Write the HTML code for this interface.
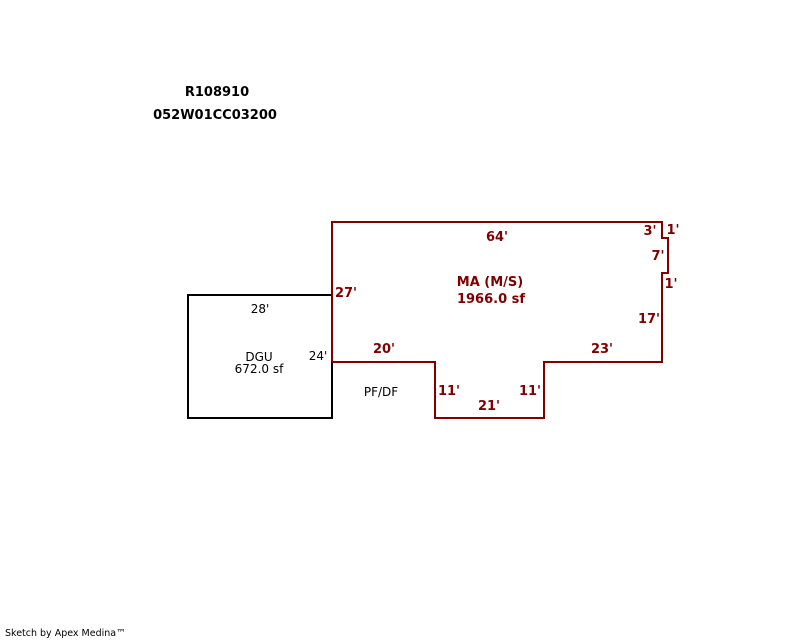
<!DOCTYPE html>
<html><head><style>
body{margin:0;background:#fff;}
svg{display:block;}
text{font-family:"DejaVu Sans","Liberation Sans",sans-serif;font-size:13px;}
.r{fill:#800000;font-weight:bold;}
.b{fill:#000;font-weight:bold;}
.n{fill:#000;font-size:12px;}
</style></head><body>
<svg width="800" height="640" xmlns="http://www.w3.org/2000/svg">
<rect width="800" height="640" fill="#fff"/>
<text class="b" x="217" y="96" text-anchor="middle">R108910</text>
<text class="b" x="215" y="119" text-anchor="middle">052W01CC03200</text>
<rect x="188" y="295" width="144" height="123" fill="none" stroke="#000" stroke-width="2"/>
<polyline points="332,362 332,222 662,222 662,238 668,238 668,273 662,273 662,362 544,362 544,418 435,418 435,362 332,362" fill="none" stroke="#800000" stroke-width="2"/>
<text class="n" x="260" y="313" text-anchor="middle">28'</text>
<text class="n" x="318" y="360" text-anchor="middle">24'</text>
<text class="n" x="259" y="361" text-anchor="middle">DGU</text>
<text class="n" x="259" y="373" text-anchor="middle">672.0 sf</text>
<text class="n" x="381" y="396" text-anchor="middle">PF/DF</text>
<text class="r" x="497" y="241" text-anchor="middle">64'</text>
<text class="r" x="490" y="286" text-anchor="middle">MA (M/S)</text>
<text class="r" x="491" y="303" text-anchor="middle">1966.0 sf</text>
<text class="r" x="346" y="297" text-anchor="middle">27'</text>
<text class="r" x="384" y="353" text-anchor="middle">20'</text>
<text class="r" x="602" y="353" text-anchor="middle">23'</text>
<text class="r" x="649" y="323" text-anchor="middle">17'</text>
<text class="r" x="449" y="395" text-anchor="middle">11'</text>
<text class="r" x="530" y="395" text-anchor="middle">11'</text>
<text class="r" x="489" y="410" text-anchor="middle">21'</text>
<text class="r" x="650" y="235" text-anchor="middle">3'</text>
<text class="r" x="673" y="234" text-anchor="middle">1'</text>
<text class="r" x="658" y="260" text-anchor="middle">7'</text>
<text class="r" x="671" y="288" text-anchor="middle">1'</text>
<text x="5" y="636" style="font-size:9.5px;fill:#000;">Sketch by Apex Medina™</text>
</svg>
</body></html>
